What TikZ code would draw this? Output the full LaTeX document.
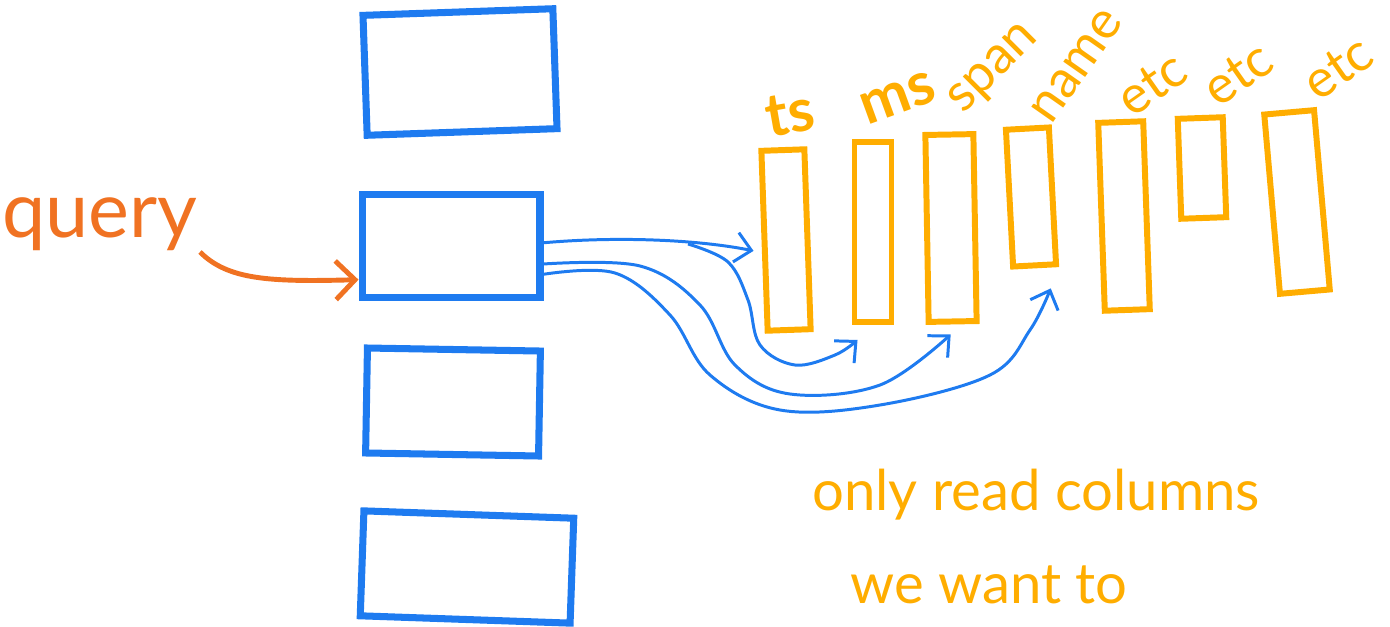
\documentclass[tikz,border=0pt]{standalone}
\usepackage{fontspec}
\setmainfont{Lato}
\usetikzlibrary{arrows.meta, calc}

\definecolor{boxblue}{HTML}{1E7BF0}
\definecolor{colorange}{HTML}{FFAD00}
\definecolor{queryorange}{HTML}{F07222}

\begin{document}
\begin{tikzpicture}[
    x=0.02cm, y=-0.02cm,
    block/.style={draw=boxblue, line width=4pt, inner sep=0pt},
    column/.style={draw=colorange, line width=3.4pt, inner sep=0pt},
    collabel/.style={text=colorange, inner sep=0pt, font=\fontsize{30}{34}\selectfont},
    readarrow/.style={-{Straight Barb[length=9pt, width=17pt]}, draw=boxblue, line width=1.7pt},
    qarrow/.style={-{Straight Barb[length=11pt, width=22pt]}, draw=queryorange, line width=2.8pt},
    note/.style={text=colorange, anchor=west, inner sep=0pt, font=\fontsize{32}{38}\selectfont},
]

\useasboundingbox (0,0) rectangle (1390,626);

%--- Row blocks (blue) ---
\node[block, minimum width=3.8cm,  minimum height=2.4cm, rotate=2]  (b1) at (460,72)  {};
\node[block, minimum width=3.56cm, minimum height=2.06cm]           (b2) at (451,246) {};
\node[block, minimum width=3.46cm, minimum height=2.1cm, rotate=-1] (b3) at (453,402) {};
\node[block, minimum width=4.2cm,  minimum height=2.1cm, rotate=-2] (b4) at (467,567) {};

%--- Query ---
\node[text=queryorange, inner sep=0pt, font=\fontsize{44}{50}\selectfont] (query) at (100,224) {query};
\coordinate (qtail) at (200,252);
\draw[qarrow] (qtail) .. controls (228,280) and (270,282) .. (b2.200);

%--- Columns (orange) ---
\node[column, minimum width=0.86cm, minimum height=3.6cm,  rotate=2] (c1) at (786,240)  {};
\node[column, minimum width=0.74cm, minimum height=3.6cm]            (c2) at (873,232)  {};
\node[column, minimum width=0.96cm, minimum height=3.74cm, rotate=1] (c3) at (951,228)  {};
\node[column, minimum width=0.86cm, minimum height=2.74cm, rotate=3] (c4) at (1031,197) {};
\node[column, minimum width=0.9cm,  minimum height=3.76cm, rotate=2] (c5) at (1124,216) {};
\node[column, minimum width=0.9cm,  minimum height=2.0cm,  rotate=2] (c6) at (1202,168) {};
\node[column, minimum width=1.0cm,  minimum height=3.6cm,  rotate=5] (c7) at (1297,202) {};

%--- Column labels ---
\node[collabel, font=\fontsize{34}{36}\selectfont\bfseries, rotate=10] (lts)   at (790,114)  {ts};
\node[collabel, font=\fontsize{34}{36}\selectfont\bfseries, rotate=20] (lms)   at (898,98)   {ms};
\node[collabel, rotate=45] (lspan) at (995,70)   {span};
\node[collabel, rotate=55] (lname) at (1077,66)  {name};
\node[collabel, rotate=35] (letca) at (1152,84)  {etc};
\node[collabel, rotate=35] (letcb) at (1238,74)  {etc};
\node[collabel, rotate=35] (letcc) at (1338,68)  {etc};

%--- Reads from block to columns ---
\coordinate (t1) at ($(c1.west)+(-8,10)$);
\coordinate (t2) at ($(c2.south west)+(6,15)$);
\coordinate (t3) at ($(c3.south)+(-2,10)$);
\coordinate (t4) at ($(c4.south)+(16,20)$);
\coordinate (fork) at (688,244);

\draw[readarrow] (b2.2) .. controls (620,236) and (700,240) .. (t1);
\draw[readarrow] plot[smooth, tension=0.6] coordinates
    {(fork) (728,262) (748,300) (760,345) (795,365) (835,355) (t2)};
\draw[readarrow] plot[smooth, tension=0.6] coordinates
    {(b2.-11) (640,266) (700,305) (735,365) (790,394) (880,385) (t3)};
\draw[readarrow] plot[smooth, tension=0.6] coordinates
    {(b2.-17) (615,273) (670,315) (710,375) (780,410) (880,405) (990,375) (1030,330) (t4)};

%--- Note ---
\node[note] (note1) at (812,495) {only read columns};
\node[note] (note2) at (850,585) {we want to};

\end{tikzpicture}
\end{document}
